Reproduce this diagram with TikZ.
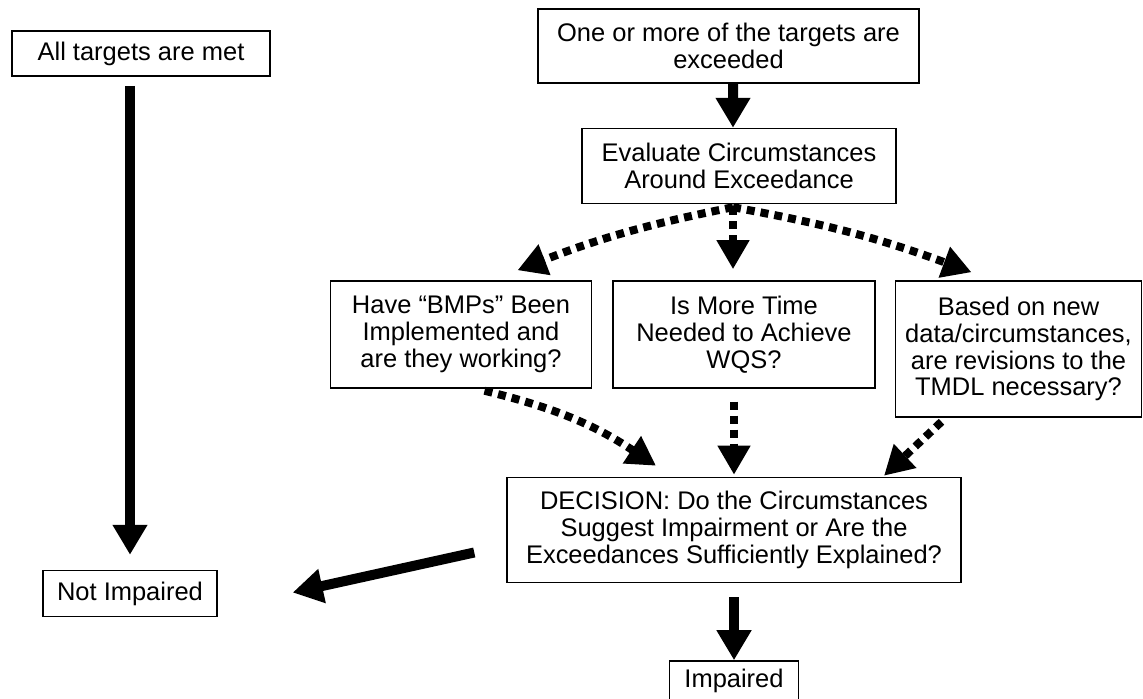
\documentclass[tikz,border=0pt]{standalone}
\usepackage{fontspec}
\setmainfont{Liberation Sans}
\usepackage{tikz}
\usetikzlibrary{arrows.meta,positioning}

\begin{document}
\begin{tikzpicture}[font=\fontsize{14.5}{15.3}\selectfont,
  box/.style={draw, line width=0.85pt, align=center, inner sep=2pt},
  fat/.style={line width=0.2cm, -{Triangle[width=0.66cm,length=0.6cm]}},
  dots/.style={line width=0.16cm, dash pattern=on 0.16cm off 0.12cm, -{Triangle[width=0.62cm,length=0.58cm]}}]
  \useasboundingbox (0,0) rectangle (22.86,-13.96);
  \node[box, minimum width=7.62cm, minimum height=1.48cm] (exc) at (14.57,-0.92) {One or more of the targets are\\exceeded};
  \node[box, minimum width=6.28cm, minimum height=1.5cm, below=0.88cm of exc, xshift=0.21cm] (eval) {Evaluate Circumstances\\Around Exceedance};
  \node[box, minimum width=5.24cm, minimum height=2.14cm, below=1.52cm of eval, xshift=0.1cm] (time) {Is More Time\\Needed to Achieve\\WQS?};
  \node[box, minimum width=5.22cm, minimum height=2.14cm, left=0.4cm of time] (bmp) {Have “BMPs” Been\\Implemented and\\are they working?};
  \node[box, minimum width=4.92cm, minimum height=2.72cm, right=0.38cm of time.north east, anchor=north west] (based) {Based on new\\data/circumstances,\\are revisions to the\\TMDL necessary?};
  \node[box, minimum width=9.08cm, minimum height=2.1cm, below=1.76cm of time, xshift=-0.2cm] (dec) {DECISION: Do the Circumstances\\Suggest Impairment or Are the\\Exceedances Sufficiently Explained?};
  \node[box, minimum width=2.58cm, minimum height=0.78cm, below=1.54cm of dec] (imp) {Impaired};
  \node[box, minimum width=5.16cm, minimum height=0.9cm] (met) at (2.82,-1.07) {All targets are met};
  \node[box, minimum width=3.48cm, minimum height=0.92cm, below=9.86cm of met, xshift=-0.22cm] (notimp) {Not Impaired};

  % solid arrows
  \draw[fat] ([yshift=-0.18cm]met.south -| notimp.north) -- ([yshift=0.3cm]notimp.north);
  \draw[fat] ([xshift=0.09cm]exc.south) -- ([xshift=-0.12cm]eval.north);
  \draw[fat] ([yshift=-0.28cm]dec.south) -- (imp.north);
  \draw[fat] ([xshift=-0.64cm,yshift=-0.45cm]dec.west) -- ([xshift=1.5cm,yshift=0.02cm]notimp.east);

  % dotted arrows
  \draw[dots] ([xshift=-0.12cm,yshift=-0.06cm]eval.south) to[bend right=5] ([xshift=1.13cm,yshift=0.2cm]bmp.north);
  \draw[dots] ([xshift=-0.12cm,yshift=-0.06cm]eval.south) -- ([xshift=-0.22cm,yshift=0.22cm]time.north);
  \draw[dots] ([xshift=-0.12cm,yshift=-0.06cm]eval.south) to[bend left=5] ([xshift=-0.94cm,yshift=0.16cm]based.north);
  \draw[dots] ([xshift=0.47cm,yshift=-0.04cm]bmp.south) to[bend left=10] ([xshift=-1.56cm,yshift=0.22cm]dec.north);
  \draw[dots] ([xshift=-0.2cm,yshift=-0.26cm]time.south) -- ([xshift=-0.2cm,yshift=0.04cm]time.south |- dec.north);
  \draw[dots] ([xshift=-1.54cm,yshift=-0.08cm]based.south) -- ([xshift=3cm,yshift=0.02cm]dec.north);
\end{tikzpicture}
\end{document}
